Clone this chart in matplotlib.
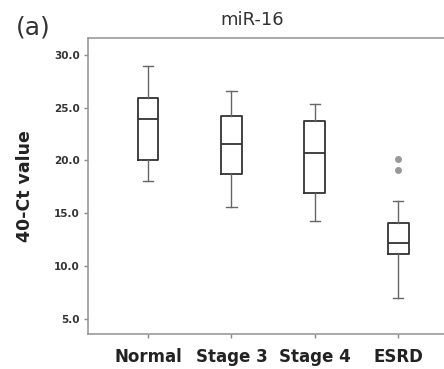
import matplotlib
matplotlib.use("Agg")
import matplotlib.pyplot as plt

categories = ["Normal", "Stage 3", "Stage 4", "ESRD"]
whislo = [18.1, 15.6, 14.3, 7.0]
q1 = [20.0, 18.7, 16.9, 11.15]
med = [23.9, 21.6, 20.7, 12.2]
q3 = [25.9, 24.2, 23.7, 14.1]
whishi = [28.95, 26.6, 25.35, 16.2]
fliers = [[], [], [], [20.1, 19.1]]
yticks = [5.0, 10.0, 15.0, 20.0, 25.0, 30.0]

stats = []
for i, c in enumerate(categories):
    stats.append(dict(label=c, whislo=whislo[i], q1=q1[i], med=med[i],
                      q3=q3[i], whishi=whishi[i], fliers=fliers[i]))

fig = plt.figure(figsize=(4.44, 3.69), dpi=100)
ax = fig.add_axes([88/444, 1-334/369, 1-88/444, (334-38)/369])

lc = "#333333"
lw = 1.3
ax.bxp(stats, positions=[1, 2, 3, 4], widths=0.25, showfliers=True,
       boxprops=dict(color=lc, linewidth=lw),
       medianprops=dict(color=lc, linewidth=lw),
       whiskerprops=dict(color="#666666", linewidth=1.0),
       capprops=dict(color="#666666", linewidth=1.0),
       flierprops=dict(marker="o", markersize=4, markerfacecolor="#999999",
                       markeredgecolor="#999999"))

ax.set_xlim(0.28, 4.55)
ax.set_ylim(3.57, 31.6)
ax.set_yticks(yticks)
ax.set_yticklabels([f"{v:.1f}" for v in yticks], fontsize=7.5, fontweight="bold", color="#333333")
ax.set_xticks([1, 2, 3, 4])
ax.set_xticklabels(categories, fontsize=12, fontweight="bold", color="#222222")
ax.tick_params(axis="both", color="#888888", length=3, width=1)
ax.tick_params(axis="x", pad=7)
ax.tick_params(axis="y", pad=3)
for s in ["left", "bottom", "top"]:
    ax.spines[s].set_color("#999999")
    ax.spines[s].set_linewidth(1.2)
ax.spines["right"].set_visible(False)

ax.set_ylabel("40-Ct value", fontsize=12.5, fontweight="bold", color="#222222", labelpad=14)
fig.text(252/444, 1-25/369, "miR-16", fontsize=13, ha="center", va="baseline", color="#333333")
fig.text(16/444, 1-34/369, "(a)", fontsize=18, ha="left", va="baseline", color="#333333")

fig.savefig("out.png", dpi=100)
